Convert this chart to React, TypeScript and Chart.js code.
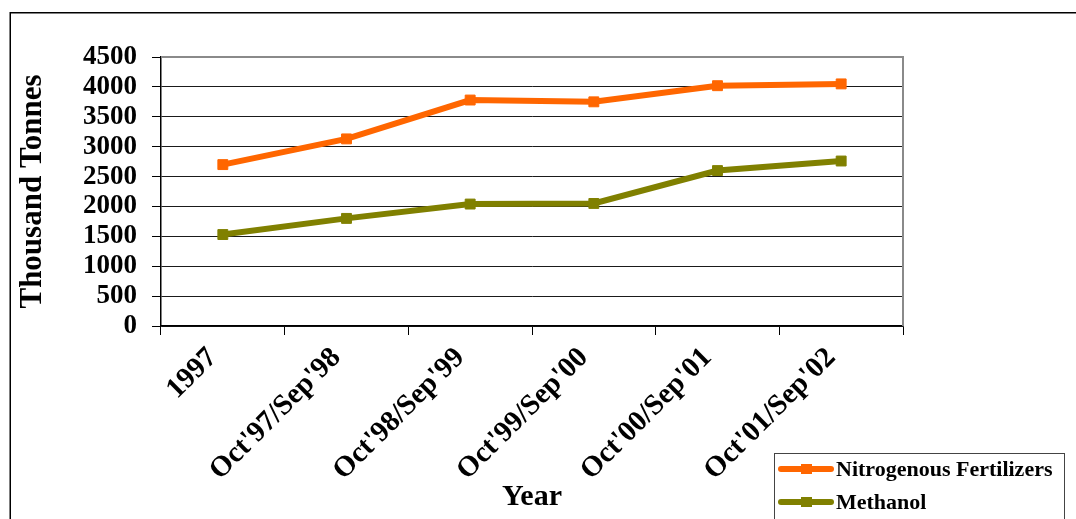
import React, { useEffect, useRef } from "react";
import { Chart, registerables } from "chart.js";

Chart.register(...registerables);

// Production years and output, in thousand tonnes
const categories = [
  "1997",
  "Oct'97/Sep'98",
  "Oct'98/Sep'99",
  "Oct'99/Sep'00",
  "Oct'00/Sep'01",
  "Oct'01/Sep'02",
];
const nitrogenous = [2700, 3130, 3780, 3750, 4020, 4050];
const methanol = [1530, 1800, 2040, 2050, 2600, 2760];
const yMin = 0;
const yMax = 4500;
const yStep = 500;

const SERIF = "'Liberation Serif', 'Times New Roman', serif";
const W = 1076;
const H = 519;

// Outer frame, plot-area outline and the boxed legend
const framePlugin = {
  id: "frame",
  beforeDraw(chart: any) {
    const { ctx } = chart;
    ctx.save();
    ctx.fillStyle = "#fff";
    ctx.fillRect(0, 0, W, H);
    ctx.strokeStyle = "#000";
    ctx.lineWidth = 1.5;
    ctx.strokeRect(10.25, 12.75, W + 40, H + 40);
    ctx.restore();
  },
  beforeDatasetsDraw(chart: any) {
    const { ctx, chartArea: a } = chart;
    ctx.save();
    ctx.strokeStyle = "#8a8a8a";
    ctx.lineWidth = 2;
    ctx.beginPath();
    ctx.moveTo(a.left, a.top);
    ctx.lineTo(a.right, a.top);
    ctx.lineTo(a.right, a.bottom);
    ctx.stroke();
    ctx.restore();
  },
  afterDraw(chart: any) {
    const { ctx } = chart;
    ctx.save();
    ctx.strokeStyle = "#444";
    ctx.lineWidth = 1;
    ctx.strokeRect(774.5, 453.5, 290, 120);
    chart.data.datasets.forEach((ds: any, i: number) => {
      const y = 469 + i * 33;
      ctx.strokeStyle = ds.borderColor;
      ctx.lineWidth = 6;
      ctx.lineCap = "round";
      ctx.beginPath();
      ctx.moveTo(781, y);
      ctx.lineTo(831, y);
      ctx.stroke();
      ctx.fillStyle = ds.borderColor;
      ctx.fillRect(801, y - 5, 11, 10);
      ctx.fillStyle = "#000";
      ctx.font = `bold 22px ${SERIF}`;
      ctx.textAlign = "left";
      ctx.textBaseline = "middle";
      ctx.fillText(ds.label, 836, y + 1);
    });
    ctx.restore();
  },
};

function ProductionChart() {
  const canvasRef = useRef<HTMLCanvasElement | null>(null);

  useEffect(() => {
    const canvas = canvasRef.current;
    if (!canvas) return;
    const series = (label: string, data: number[], color: string) => ({
      label,
      data,
      borderColor: color,
      backgroundColor: color,
      borderWidth: 6,
      pointStyle: "rect" as const,
      pointRadius: 7,
      pointBorderWidth: 1,
      pointBorderColor: color,
      pointBackgroundColor: color,
      tension: 0,
    });
    const chart = new Chart(canvas, {
      type: "line",
      data: {
        labels: categories,
        datasets: [
          series("Nitrogenous Fertilizers", nitrogenous, "#FF6600"),
          series("Methanol", methanol, "#808000"),
        ],
      },
      plugins: [framePlugin],
      options: {
        responsive: false,
        animation: false,
        devicePixelRatio: 1,
        layout: { padding: { left: 0, top: 57, right: W - 903, bottom: 0 } },
        plugins: {
          legend: { display: false },
          tooltip: { enabled: false },
        },
        scales: {
          x: {
            offset: true,
            afterFit: (s: any) => {
              s.height = H - 326;
            },
            grid: {
              offset: true,
              drawOnChartArea: false,
              drawTicks: true,
              tickLength: 9,
              color: "#000",
            },
            border: { color: "#000", width: 1.5 },
            ticks: {
              minRotation: 45,
              maxRotation: 45,
              autoSkip: false,
              padding: 6,
              labelOffset: -10,
              color: "#000",
              font: { family: SERIF, size: 29, weight: "bold" },
            },
            title: {
              display: true,
              text: "Year",
              color: "#000",
              padding: { top: 0, bottom: 4 },
              font: { family: SERIF, size: 30, weight: "bold" },
            },
          },
          y: {
            min: yMin,
            max: yMax,
            afterFit: (s: any) => {
              s.width = 161;
            },
            grid: {
              color: (c: any) => (c.tick && c.tick.value === yMax ? "#8a8a8a" : "#1a1a1a"),
              tickColor: "#000",
              tickLength: 9,
              lineWidth: 1,
            },
            border: { color: "#000", width: 1.5 },
            ticks: {
              stepSize: yStep,
              autoSkip: false,
              padding: 15,
              color: "#000",
              callback: (v: any) => String(v),
              font: { family: SERIF, size: 27, weight: "bold" },
            },
            title: {
              display: true,
              text: "Thousand Tonnes",
              color: "#000",
              padding: { top: 14, bottom: 0 },
              font: { family: SERIF, size: 31, weight: "bold" },
            },
          },
        },
      },
    });
    return () => chart.destroy();
  }, []);

  return <canvas ref={canvasRef} width={W} height={H} style={{ display: "block" }} />;
}

export default function App() {
  return (
    <div
      style={{
        position: "fixed",
        left: 0,
        top: 0,
        width: W,
        height: H,
        overflow: "hidden",
        background: "#fff",
      }}
    >
      <ProductionChart />
    </div>
  );
}
